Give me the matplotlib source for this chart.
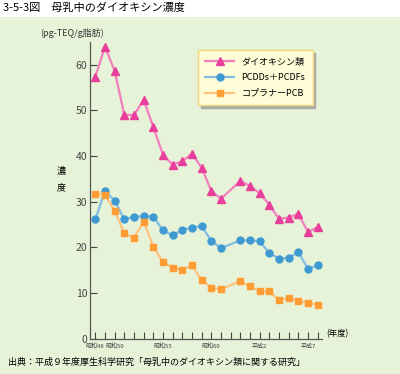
import matplotlib
matplotlib.use('Agg')
import matplotlib.pyplot as plt
from matplotlib.patches import Rectangle

plt.rcParams['font.family'] = ['Noto Sans CJK JP', 'DejaVu Sans']

years = [1973, 1974, 1975, 1976, 1977, 1978, 1979, 1980, 1981, 1982, 1983, 1984,
         1985, 1986, 1988, 1989, 1990, 1991, 1992, 1993, 1994, 1995, 1996]
dioxins = [57.3, 63.9, 58.6, 49.0, 48.9, 52.3, 46.3, 40.2, 38.1, 38.8, 40.5, 37.4,
           32.3, 30.6, 34.5, 33.4, 31.8, 29.3, 26.2, 26.5, 27.3, 23.3, 24.4]
pcdd_pcdf = [26.1, 32.3, 30.2, 26.1, 26.7, 26.8, 26.7, 23.7, 22.6, 23.8, 24.3, 24.6,
             21.4, 19.8, 21.5, 21.5, 21.3, 18.7, 17.5, 17.7, 18.9, 15.3, 16.0]
coplanar = [31.6, 31.5, 28.0, 23.0, 22.1, 25.6, 20.1, 16.7, 15.5, 15.1, 16.0, 12.8,
            11.1, 10.8, 12.6, 11.4, 10.3, 10.3, 8.4, 8.9, 8.2, 7.8, 7.4]
names = ['ダイオキシン類', 'PCDDs＋PCDFs', 'コプラナーPCB']
tick_years = [1973, 1975, 1980, 1985, 1990, 1995]
tick_names = ['昭和48', '昭和50', '昭和55', '昭和60', '平成2', '平成7']

bg = '#e6f3d8'
fig = plt.figure(figsize=(4, 3.74), dpi=100, facecolor='white')
fig.patches.append(Rectangle((0, 0), 1, 1 - 17 / 374, transform=fig.transFigure,
                             facecolor=bg, edgecolor='none', zorder=-10))

ax = fig.add_axes([0.225, 0.0949, 0.58, 0.7936])
ax.set_facecolor('none')

ax.plot(years, dioxins, color='#f47fbf', lw=1.6, marker='^', ms=5.5,
        mfc='#e83e9c', mec='#e83e9c', label=names[0])
ax.plot(years, pcdd_pcdf, color='#80bde0', lw=1.6, marker='o', ms=5,
        mfc='#3f9ad2', mec='#3f9ad2', label=names[1])
ax.plot(years, coplanar, color='#ffc27f', lw=1.6, marker='s', ms=4.5,
        mfc='#ff9c33', mec='#ff9c33', label=names[2])

ax.set_xlim(1972.45, 1996.45)
ax.set_ylim(0, 65)
ax.set_yticks([0, 10, 20, 30, 40, 50, 60])
ax.set_xticks(range(1973, 1997), minor=True)
ax.set_xticks(tick_years)
ax.set_xticklabels(tick_names, fontsize=4.3)
ax.tick_params(axis='y', direction='in', length=5, width=0.8, labelsize=7.5,
               colors='#444444', pad=2)
ax.tick_params(axis='x', which='both', direction='in', length=5, width=0.8,
               colors='#444444', pad=3.5)
for s in ['top', 'right']:
    ax.spines[s].set_visible(False)
for s in ['left', 'bottom']:
    ax.spines[s].set_color('#555555')
    ax.spines[s].set_linewidth(0.9)

leg = ax.legend(loc='upper left', bbox_to_anchor=(0.466, 0.972), fontsize=6.5,
                frameon=True, fancybox=False, handlelength=3.2, borderpad=0.8,
                labelspacing=0.75, borderaxespad=0,
                shadow={'color': '#aaaaaa', 'alpha': 1})
leg.get_frame().set_facecolor('#fffdd8')
leg.get_frame().set_edgecolor('#f5d77a')
leg.get_frame().set_linewidth(1)
leg.get_frame().set_alpha(1)

fig.text(0.008, 0.978, '3-5-3図　母乳中のダイオキシン濃度', fontsize=8,
         va='center', ha='left')
fig.text(0.1, 0.912, '(pg-TEQ/g脂肪)', fontsize=6.5, va='center', ha='left',
         color='#333333')
fig.text(0.152, 0.545, '濃', fontsize=6.5, va='center', ha='center')
fig.text(0.152, 0.497, '度', fontsize=6.5, va='center', ha='center')
fig.text(0.815, 0.108, '(年度)', fontsize=6, va='center', ha='left')
fig.text(0.02, 0.03, '出典：平成９年度厚生科学研究「母乳中のダイオキシン類に関する研究」',
         fontsize=6.5, va='center', ha='left')

fig.savefig('out.png', dpi=100, facecolor=fig.get_facecolor())
